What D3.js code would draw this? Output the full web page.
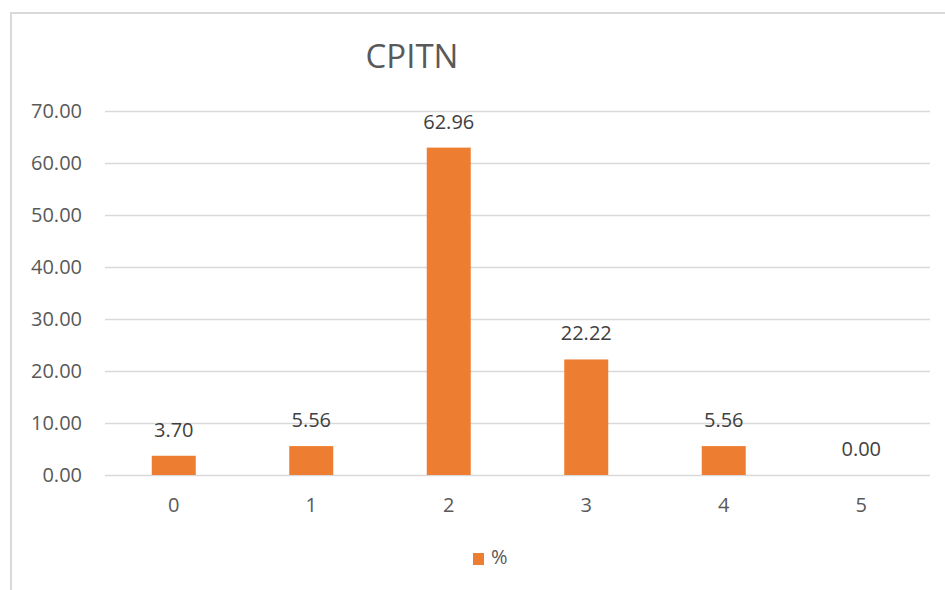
<!DOCTYPE html>
<html>
<head>
<meta charset="utf-8">
<script src="https://cdn.jsdelivr.net/npm/d3@7"></script>
<style>
  html, body { margin: 0; padding: 0; background: #fff; }
  svg { display: block; }
</style>
</head>
<body>
<svg id="chart" width="945" height="590"></svg>
<script>
// CPITN score distribution (percent of subjects)
const categories = ["0", "1", "2", "3", "4", "5"];
const percents = [3.70, 5.56, 62.96, 22.22, 5.56, 0.00];
const yTicks = [0, 10, 20, 30, 40, 50, 60, 70];
const seriesName = "%";
const chartTitle = "CPITN";

const W = 945, H = 590;
const margin = { left: 105, right: 15, top: 111, bottom: 115 };
const font = "'Open Sans', 'Noto Sans', sans-serif";
const textColor = "#595959";
const barColor = "#ED7D31";
const fs = "20px";

const svg = d3.select("#chart");

// chart area frame
svg.append("rect")
  .attr("x", 11).attr("y", 13)
  .attr("width", W + 20).attr("height", H + 20)
  .attr("fill", "#fff")
  .attr("stroke", "#d9d9d9").attr("stroke-width", 2);

const x = d3.scaleBand()
  .domain(categories)
  .range([margin.left, W - margin.right])
  .paddingInner(0.68).paddingOuter(0.34);

const y = d3.scaleLinear()
  .domain([0, 70])
  .range([H - margin.bottom, margin.top]);

// horizontal gridlines + y labels
const yAxis = d3.axisLeft(y)
  .tickValues(yTicks)
  .tickFormat(d3.format(".2f"))
  .tickSize(-(W - margin.right - margin.left))
  .tickPadding(23);

const gy = svg.append("g")
  .attr("transform", `translate(${margin.left},0)`)
  .call(yAxis);
gy.select(".domain").remove();
gy.selectAll(".tick line").attr("stroke", "#d9d9d9").attr("stroke-width", 1.5);
gy.selectAll(".tick text")
  .attr("fill", textColor)
  .style("font-family", font)
  .style("font-size", fs);

// x labels
const xAxis = d3.axisBottom(x).tickSize(0).tickPadding(23);
const gx = svg.append("g")
  .attr("transform", `translate(0,${y(0)})`)
  .call(xAxis);
gx.select(".domain").remove();
gx.selectAll(".tick text")
  .attr("fill", textColor)
  .style("font-family", font)
  .style("font-size", fs);

// bars
svg.append("g").selectAll("rect")
  .data(percents)
  .join("rect")
  .attr("x", (d, i) => x(categories[i]))
  .attr("y", d => y(d))
  .attr("width", x.bandwidth())
  .attr("height", d => y(0) - y(d))
  .attr("fill", barColor);

// value labels
svg.append("g").selectAll("text")
  .data(percents)
  .join("text")
  .attr("x", (d, i) => x(categories[i]) + x.bandwidth() / 2)
  .attr("y", d => y(d) - 19)
  .attr("text-anchor", "middle")
  .attr("fill", "#404040")
  .style("font-family", font)
  .style("font-size", fs)
  .text(d => d3.format(".2f")(d));

// title
svg.append("text")
  .attr("x", 412).attr("y", 68)
  .attr("text-anchor", "middle")
  .attr("fill", textColor)
  .style("font-family", font)
  .style("font-size", "33px")
  .text(chartTitle);

// legend
const lg = svg.append("g").attr("transform", "translate(473,553)");
lg.append("rect").attr("width", 11).attr("height", 12).attr("fill", barColor);
lg.append("text")
  .attr("x", 18).attr("y", 11)
  .attr("fill", textColor)
  .style("font-family", font)
  .style("font-size", fs)
  .text(seriesName);
</script>
</body>
</html>
